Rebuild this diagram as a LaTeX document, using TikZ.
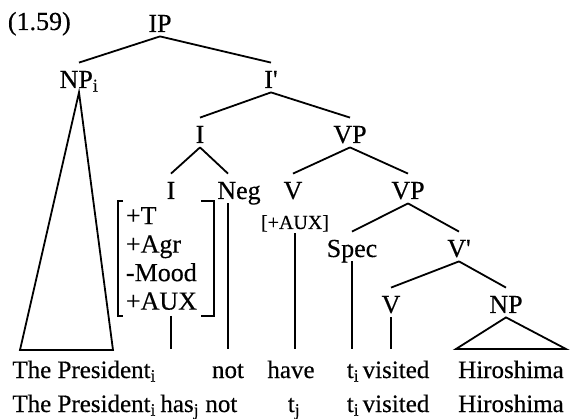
\documentclass[tikz,border=0pt]{standalone}
\usepackage{fontspec}
\setmainfont[FakeBold=0.4]{Liberation Serif}
\newcommand{\ix}[1]{\textsubscript{#1}}
\tikzset{
  cat/.style={anchor=base, font=\fontsize{26}{28}\selectfont, text height=23pt, text depth=2pt, inner xsep=2pt, inner ysep=1.5pt},
  word/.style={anchor=base, font=\fontsize{25}{28}\selectfont, text height=26.5pt, text depth=5pt, inner sep=1.5pt},
  feats/.style={font=\fontsize{26}{28.5}\selectfont, align=left, text width=80pt, minimum height=113pt, inner xsep=7pt, inner ysep=0pt},
  small/.style={anchor=base, font=\fontsize{20}{22}\selectfont, text depth=2pt, inner ysep=1.5pt},
}

\begin{document}
\begin{tikzpicture}[x=1pt, y=-1pt, line width=1.8pt]
\useasboundingbox (0,0) rectangle (570,419);
\node[anchor=base west, font=\fontsize{26}{28}\selectfont, inner sep=0pt] (ex) at (7,30) {(1.59)};
% categories
\node[cat] (ip) at (160,32) {IP};
\node[cat] (npi) at (79,88) {NP\ix{i}};
\node[cat] (ibar) at (271,88) {I\textquotesingle};
\node[cat] (i1) at (200,143) {I};
\node[cat] (vp1) at (350,143) {VP};
\node[cat] (i2) at (171,199) {I};
\node[cat] (neg) at (239,199) {Neg};
\node[cat] (v1) at (293,199) {V};
\node[cat] (vp2) at (408,199) {VP};
\node[small] (aux) at (295,229) {[+AUX]};
\node[feats] (feat) at (166,258.5) {+T\\+Agr\\-Mood\\+AUX};
\node[cat] (spec) at (352,257) {Spec};
\node[cat] (vbar) at (459,257) {V\textquotesingle};
\node[cat] (v2) at (391,313) {V};
\node[cat] (np2) at (506,313) {NP};
% first line of words
\node[word, anchor=base west] (pres1) at (10,378) {The President\ix{i}};
\node[word] (not1) at (228,378) {not};
\node[word] (have1) at (291,378) {have};
\node[word] (ti1) at (353,378) {t\ix{i}};
\node[word] (visited1) at (396,378) {visited};
\node[word] (hiro1) at (511,378) {Hiroshima};
% second line of words
\node[word, anchor=base west] (pres2) at (10,412) {The President\ix{i}};
\node[word, anchor=base west] (has2) at (158,412) {has\ix{j}};
\node[word, anchor=base west] (not2) at (203,412) {not};
\node[word] (tj2) at (294,412) {t\ix{j}};
\node[word] (ti2) at (353,412) {t\ix{i}};
\node[word] (visited2) at (396,412) {visited};
\node[word] (hiro2) at (511,412) {Hiroshima};
\coordinate (npl) at (20,350);
\coordinate (npr) at (113,350);
% branches
\draw (ip.south) -- (npi.north);
\draw (ip.south) -- (ibar.north);
\draw (ibar.south) -- (i1.north);
\draw (ibar.south) -- (vp1.north);
\draw (i1.south) -- (i2.north);
\draw (i1.south) -- (neg.north -| not1.north);
\draw (vp1.south) -- (v1.north);
\draw (vp1.south) -- (vp2.north);
\draw (vp2.south) -- (spec.north);
\draw (vp2.south) -- (vbar.north);
\draw (vbar.south) -- (v2.north);
\draw (vbar.south) -- (np2.north);
% unary lines down to the words
\draw (feat.south -| i2.south) -- (i2.south |- not1.north);
\draw (neg.south -| not1.north) -- (not1.north);
\draw (aux.south) -- (aux.south |- have1.north);
\draw (spec.south) -- (spec.south |- ti1.north);
\draw (v2.south) -- (v2.south |- visited1.north);
% triangles
\draw (npi.south) -- (npl) -- (npr) -- cycle;
\draw (np2.south) -- (hiro1.north west) -- (hiro1.north east) -- cycle;
% feature brackets
\draw ([xshift=5pt]feat.north west) -- (feat.north west) -- (feat.south west) -- ([xshift=5pt]feat.south west);
\draw ([xshift=-13pt]feat.north east) -- (feat.north east) -- (feat.south east) -- ([xshift=-13pt]feat.south east);
\end{tikzpicture}
\end{document}
